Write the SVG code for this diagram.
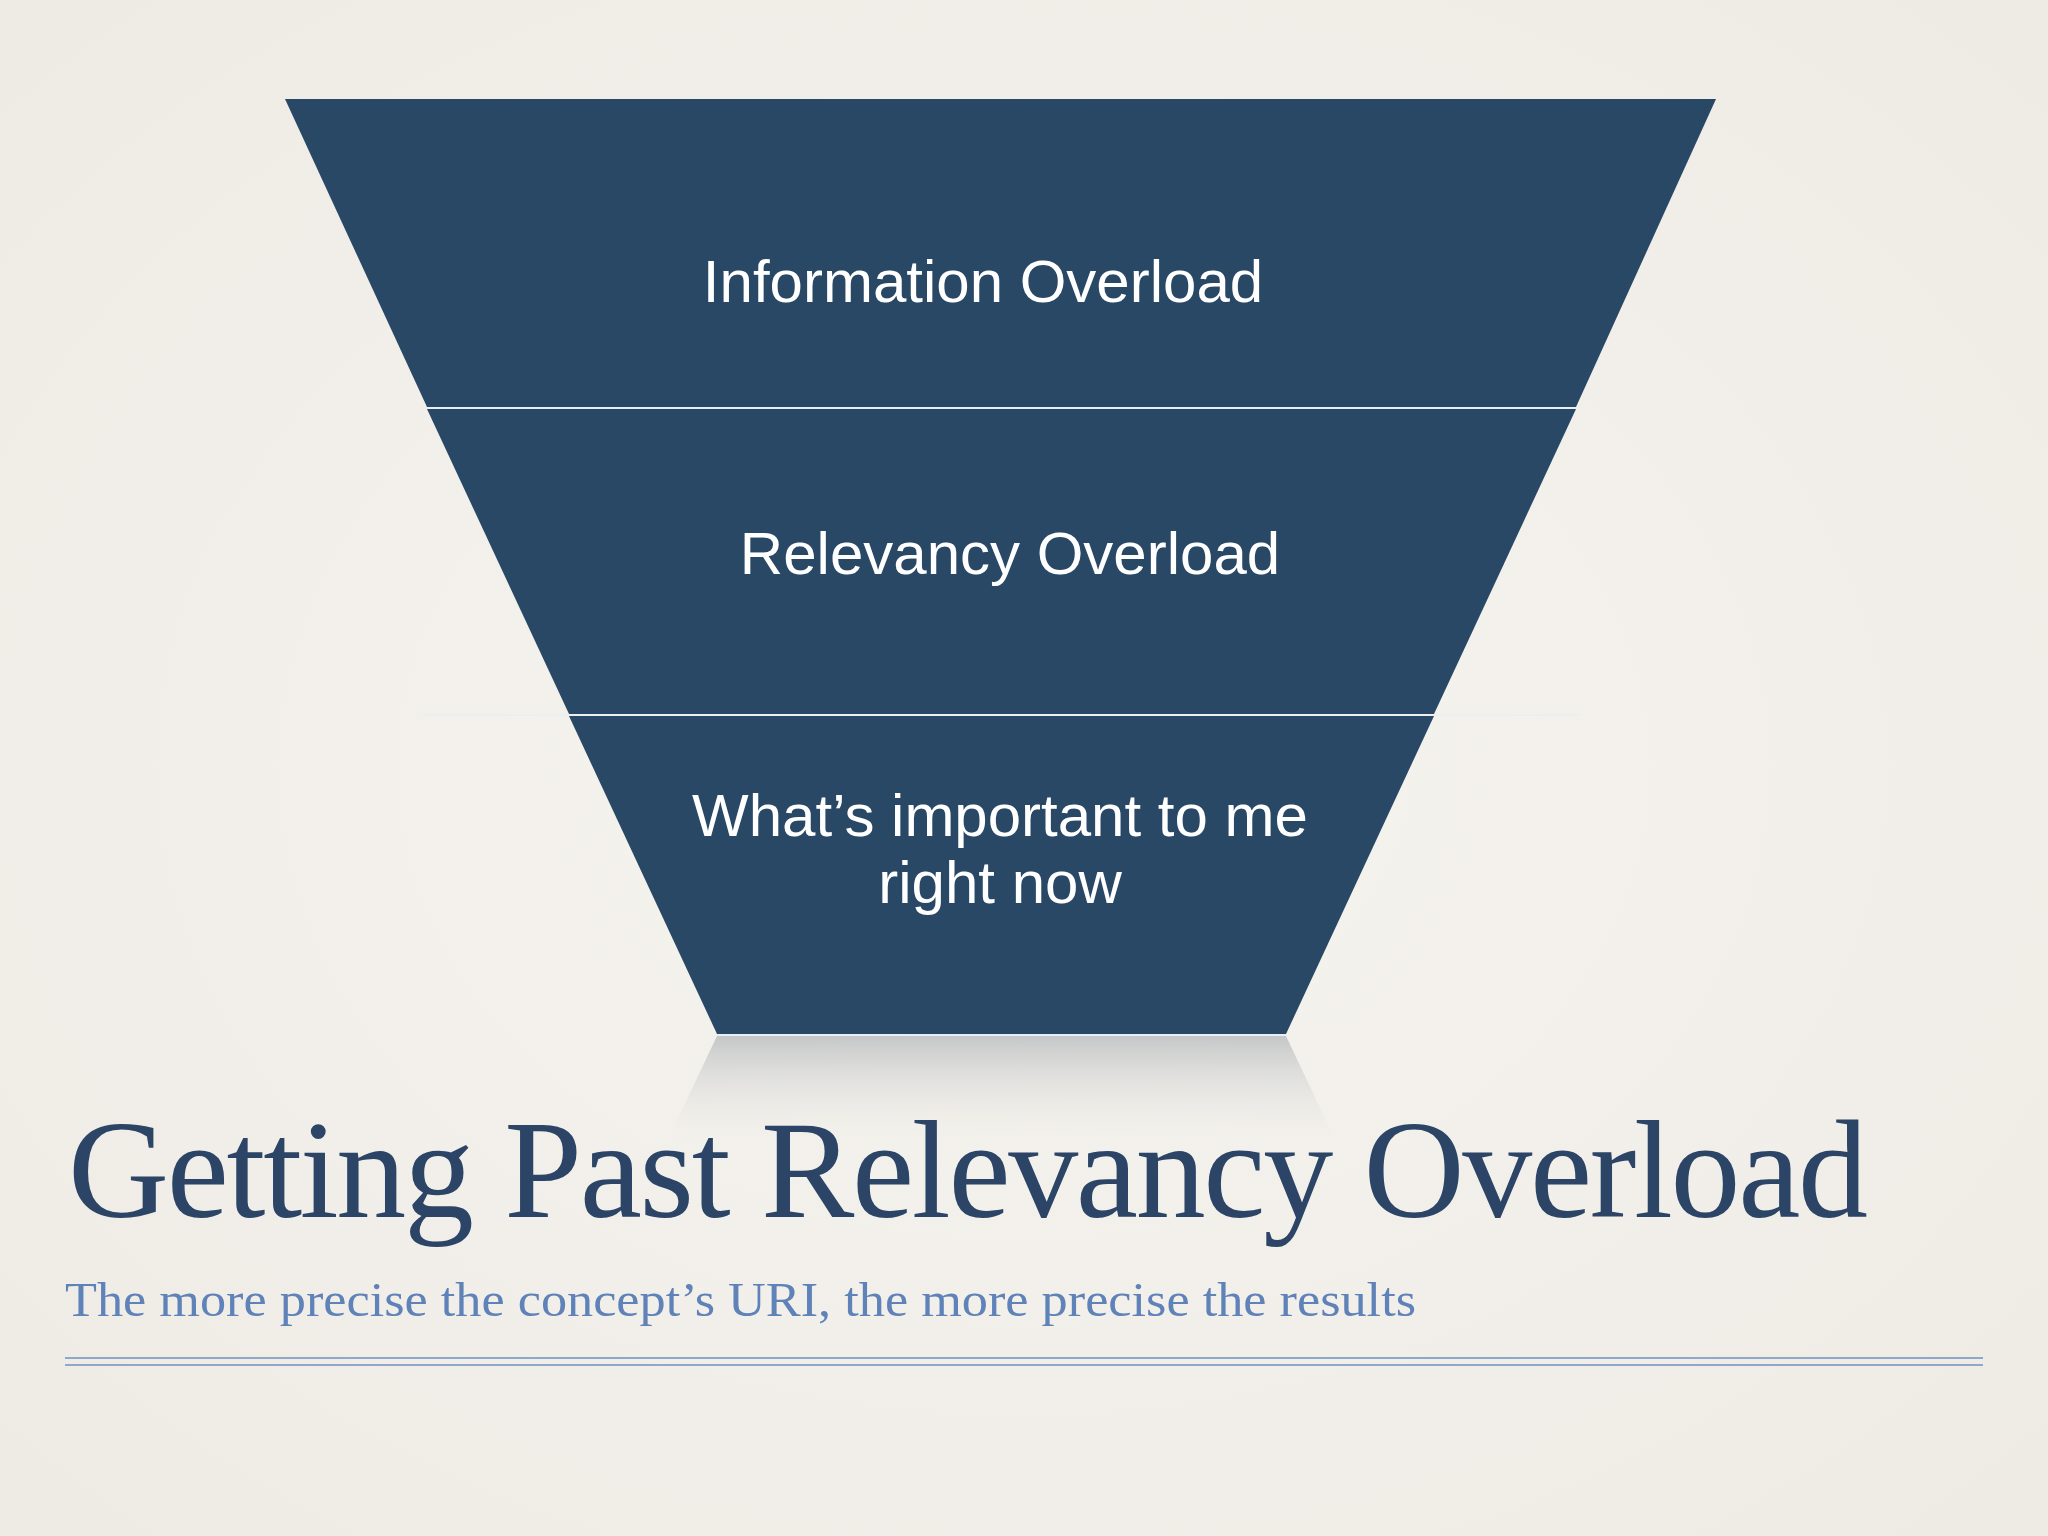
<svg xmlns="http://www.w3.org/2000/svg" width="2048" height="1536" viewBox="0 0 2048 1536">
<defs>
<style>
.seg{fill:#284866}
.lbl{font-family:"Liberation Sans",Arial,sans-serif;font-size:60px;fill:#ffffff;text-anchor:middle}
.sep{stroke:#e8eef4;stroke-width:2}
</style>
<linearGradient id="refl" x1="0" y1="0" x2="0" y2="1">
<stop offset="0" stop-color="#b9bcbf" stop-opacity="0.8"/>
<stop offset="1" stop-color="#f3f1ec" stop-opacity="0"/>
</linearGradient>
<radialGradient id="bg" cx="0.5" cy="0.5" r="0.7">
<stop offset="0" stop-color="#f6f4ef"/>
<stop offset="1" stop-color="#eeebe5"/>
</radialGradient>
</defs>
<rect width="2048" height="1536" fill="url(#bg)"/>
<polygon points="717,1036 1286,1036 1340,1150 663,1150" fill="url(#refl)"/>
<g id="seg1"><polygon class="seg" points="285,99 1716,99 1576,407 427,407"/><text class="lbl" x="983" y="302">Information Overload</text></g>
<g id="seg2"><polygon class="seg" points="427,409 1576,409 1434,714 569,714"/><text class="lbl" x="1010" y="574">Relevancy Overload</text></g>
<g id="seg3"><polygon class="seg" points="569,716 1434,716 1286,1034 717,1034"/><text class="lbl" x="1000" y="836">What’s important to me</text><text class="lbl" x="1000" y="903">right now</text></g>
<g id="connectors"><line class="sep" x1="427" y1="408" x2="1576" y2="408"/><line class="sep" x1="420" y1="715" x2="1580" y2="715" stroke-opacity="0.6"/><line class="sep" x1="717" y1="1035" x2="1286" y2="1035"/></g>
<text x="68" y="1217" font-family="Liberation Serif,serif" font-size="140" fill="#2c4466" textLength="1800" lengthAdjust="spacing">Getting Past Relevancy Overload</text>
<text x="65" y="1316" font-family="Liberation Serif,serif" font-size="48" fill="#5f82b8" textLength="1351" lengthAdjust="spacingAndGlyphs">The more precise the concept’s URI, the more precise the results</text>
<line x1="65" y1="1358" x2="1983" y2="1358" stroke="#8ea8cc" stroke-width="2"/>
<line x1="65" y1="1365" x2="1983" y2="1365" stroke="#8ea8cc" stroke-width="2"/>
</svg>
